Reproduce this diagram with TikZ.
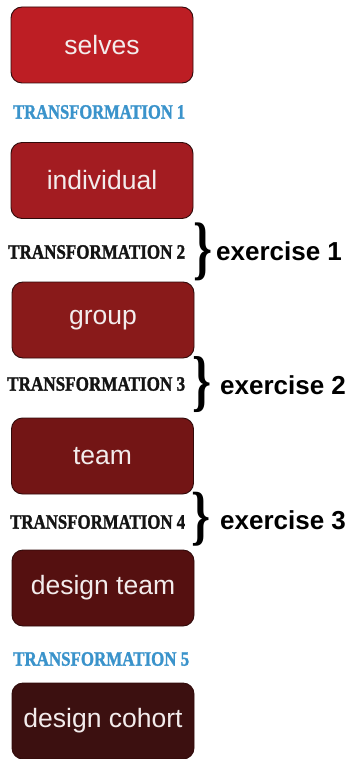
\documentclass[tikz,border=0pt]{standalone}
\usepackage{fontspec}
\usepackage{graphicx}
\setmainfont{Liberation Sans}
\newfontfamily\labfont[FakeBold=1.6]{Liberation Serif Bold}
\newfontfamily\bracefont{Liberation Serif Bold}
\definecolor{cSelves}{HTML}{BD1E24}
\definecolor{cIndiv}{HTML}{A31C21}
\definecolor{cGroup}{HTML}{891A1A}
\definecolor{cTeam}{HTML}{731515}
\definecolor{cDTeam}{HTML}{551010}
\definecolor{cCohort}{HTML}{3C1010}
\definecolor{cBorder}{HTML}{300A0A}
\definecolor{cBoxText}{HTML}{F3ECEC}
\definecolor{cBlue}{HTML}{3A93CB}
\definecolor{cBlack}{HTML}{141414}
\tikzset{
  stagebox/.style={draw=cBorder, line width=0.9pt, rounded corners=11pt,
    minimum width=182pt, minimum height=76pt, inner sep=0pt,
    font=\fontsize{26.5}{30}\selectfont, text=cBoxText},
  translab/.style={anchor=west, inner sep=0pt},
  exlab/.style={anchor=west, inner sep=0pt, font=\bfseries\fontsize{26}{30}\selectfont, text=black},
  bracenode/.style={inner sep=0pt, text=black}
}
\newcommand{\tlab}[2]{\resizebox{#1}{13.5pt}{\labfont #2}}
\newcommand{\bigbrace}[1]{\resizebox*{19pt}{#1}{\bracefont\}}}
\begin{document}
\begin{tikzpicture}[x=1pt,y=-1pt]
\useasboundingbox (0,0) rectangle (352,759);
\node[stagebox, fill=cSelves] (selves) at (102,45) {selves};
\node[translab, text=cBlue] (t1) at (13,112) {\tlab{172pt}{TRANSFORMATION 1}};
\node[stagebox, fill=cIndiv] (indiv) at (102,180.5) {individual};
\node[translab, text=cBlack] (t2) at (8,252) {\tlab{177pt}{TRANSFORMATION 2}};
\node[stagebox, fill=cGroup] (group) at (103,320) {group};
\node[translab, text=cBlack] (t3) at (7,384) {\tlab{178pt}{TRANSFORMATION 3}};
\node[stagebox, fill=cTeam] (team) at (102.5,456) {team};
\node[translab, text=cBlack] (t4) at (10,522) {\tlab{175pt}{TRANSFORMATION 4}};
\node[stagebox, fill=cDTeam] (dteam) at (103,588) {design team};
\node[translab, text=cBlue] (t5) at (13,659) {\tlab{176pt}{TRANSFORMATION 5}};
\node[stagebox, fill=cCohort] (cohort) at (103,721) {design cohort};
% braces
\node[bracenode] (br1) at (202.5,251.5) {\bigbrace{58pt}};
\node[bracenode] (br2) at (202,385) {\bigbrace{56pt}};
\node[bracenode] (br3) at (201,519.5) {\bigbrace{54pt}};
\node[exlab] (ex1) at (216,251) {exercise 1};
\node[exlab] (ex2) at (220,385) {exercise 2};
\node[exlab] (ex3) at (220,520) {exercise 3};
\end{tikzpicture}
\end{document}
